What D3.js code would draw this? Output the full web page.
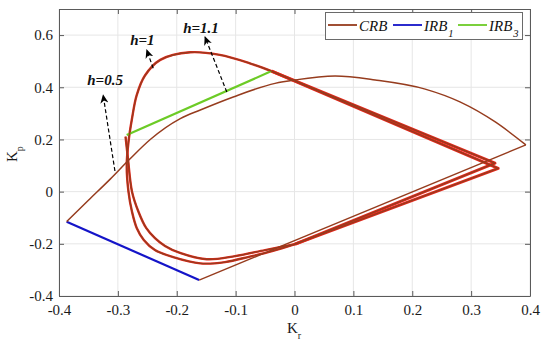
<!DOCTYPE html>
<html>
<head>
<meta charset="utf-8">
<script src="https://cdn.jsdelivr.net/npm/d3@7"></script>
<style>
  body { margin: 0; background: #fff; }
  svg text { font-family: "Liberation Serif", "Times New Roman", serif; }
</style>
</head>
<body>
<script>
//Width and height
var w = 550;
var h = 346;

// axis ticks
var xTicks = [-0.4, -0.3, -0.2, -0.1, 0, 0.1, 0.2, 0.3, 0.4];
var xTickLabels = ["-0.4", "-0.3", "-0.2", "-0.1", "0", "0.1", "0.2", "0.3", "0.4"];
var yTicks = [-0.4, -0.2, 0, 0.2, 0.4, 0.6];
var yTickLabels = ["-0.4", "-0.2", "0", "0.2", "0.4", "0.6"];

// CRB, h = 0.5 (curved part, then straight back edge)
var crb05Curve = [
  [-0.387, -0.115], [-0.35, -0.033], [-0.313, 0.048], [-0.281, 0.122],
  [-0.245, 0.200], [-0.194, 0.280], [-0.160, 0.313], [-0.104, 0.363],
  [-0.033, 0.415], [0.001, 0.428], [0.069, 0.443], [0.137, 0.428],
  [0.222, 0.393], [0.281, 0.344], [0.341, 0.267], [0.393, 0.179]
];
var crb05Line = [[0.393, 0.179], [-0.162, -0.339]];

// CRB, h = 1
var crb1Curve = [
  [0.001, -0.201], [-0.038, -0.228], [-0.076, -0.249], [-0.118, -0.270],
  [-0.160, -0.275], [-0.206, -0.251], [-0.237, -0.224], [-0.256, -0.185],
  [-0.268, -0.139], [-0.276, -0.077], [-0.282, 0.0], [-0.285, 0.10],
  [-0.282, 0.19], [-0.276, 0.28], [-0.268, 0.37], [-0.254, 0.445],
  [-0.228, 0.505], [-0.177, 0.534], [-0.127, 0.524], [-0.076, 0.492],
  [-0.039, 0.462]
];
var crb1Line = [[-0.039, 0.462], [0.346, 0.089], [0.001, -0.201]];

// CRB, h = 1.1
var crb11Curve = [
  [0.001, -0.201], [-0.05, -0.224], [-0.101, -0.247], [-0.149, -0.259],
  [-0.1945, -0.235], [-0.22, -0.208], [-0.237, -0.178], [-0.252, -0.139],
  [-0.265, -0.077], [-0.276, 0.0], [-0.283, 0.129], [-0.287, 0.211]
];
var crb11Line = [[0.001, -0.201], [0.3405, 0.109], [-0.039, 0.462]];

// IRB lines
var irb1 = [[-0.387, -0.115], [-0.162, -0.339]];
var irb3 = [[-0.285, 0.217], [-0.039, 0.462]];

// annotations: label, label position, arrow tail, arrow head
var hLabels = ["h=0.5", "h=1", "h=1.1"];
var hLabelPos = [[-0.352, 0.409], [-0.279, 0.562], [-0.189, 0.608]];
var hArrowTail = [[-0.305, 0.079], [-0.240, 0.473], [-0.115, 0.382]];
var hArrowHead = [[-0.325, 0.370], [-0.251, 0.543], [-0.152, 0.593]];

var legendNames = ["CRB", "IRB", "IRB"];
var legendSubs = ["", "1", "3"];

var brown = "#963c1e";
var red = "#e8261c";
var blue = "#1414c8";
var green = "#6ccb26";
var axisColor = "#5a5a5a";
var serif = "'Liberation Serif', 'Times New Roman', serif";

var xScale = d3.scaleLinear().domain([-0.4, 0.4]).range([59, 530]);
var yScale = d3.scaleLinear().domain([-0.4, 0.7]).range([296, 9]);

//Create SVG element
var svg = d3.select("body").append("svg").attr("width", w).attr("height", h);

var defs = svg.append("defs");
defs
  .append("marker")
  .attr("id", "head")
  .attr("viewBox", "0 -5 10 10")
  .attr("refX", 9)
  .attr("refY", 0)
  .attr("markerWidth", 9)
  .attr("markerHeight", 9)
  .attr("markerUnits", "userSpaceOnUse")
  .attr("orient", "auto")
  .append("path")
  .attr("d", "M0,-4.5L10,0L0,4.5L3,0Z")
  .attr("fill", "#000");

//Grid
svg
  .append("g")
  .selectAll("line")
  .data(xTicks)
  .enter()
  .append("line")
  .attr("x1", function (d) { return xScale(d); })
  .attr("x2", function (d) { return xScale(d); })
  .attr("y1", yScale(-0.4))
  .attr("y2", yScale(0.7))
  .attr("stroke", "#e6e6e6");
svg
  .append("g")
  .selectAll("line")
  .data(yTicks)
  .enter()
  .append("line")
  .attr("x1", xScale(-0.4))
  .attr("x2", xScale(0.4))
  .attr("y1", function (d) { return yScale(d); })
  .attr("y2", function (d) { return yScale(d); })
  .attr("stroke", "#e6e6e6");

//Axes
function styleAxis(g) {
  g.attr("font-family", serif);
  g.selectAll("path,line").attr("stroke", axisColor);
  g.selectAll("text")
    .attr("fill", "#1a1a1a")
    .attr("font-size", "15px")
    .style("font-family", serif);
}

svg
  .append("g")
  .attr("transform", "translate(0," + yScale(-0.4) + ")")
  .call(
    d3.axisBottom(xScale).tickValues(xTicks).tickSize(-5).tickSizeOuter(0).tickPadding(8)
      .tickFormat(function (d, i) { return xTickLabels[i]; })
  )
  .call(styleAxis);
svg
  .append("g")
  .attr("transform", "translate(0," + yScale(0.7) + ")")
  .call(d3.axisTop(xScale).tickValues(xTicks).tickSize(-5).tickSizeOuter(0).tickFormat(""))
  .call(styleAxis);
svg
  .append("g")
  .attr("transform", "translate(" + xScale(-0.4) + ",0)")
  .call(
    d3.axisLeft(yScale).tickValues(yTicks).tickSize(-5).tickSizeOuter(0).tickPadding(6)
      .tickFormat(function (d, i) { return yTickLabels[i]; })
  )
  .call(styleAxis);
svg
  .append("g")
  .attr("transform", "translate(" + xScale(0.4) + ",0)")
  .call(d3.axisRight(yScale).tickValues(yTicks).tickSize(-5).tickSizeOuter(0).tickFormat(""))
  .call(styleAxis);

//Axis titles
var xt = svg
  .append("text")
  .attr("x", 287)
  .attr("y", 333)
  .attr("font-size", "15px")
  .style("font-family", serif)
  .attr("fill", "#1a1a1a");
xt.append("tspan").text("K");
xt.append("tspan").attr("dy", 6).attr("font-size", "10px").text("r");

var yt = svg
  .append("text")
  .attr("transform", "translate(17,162) rotate(-90)")
  .attr("font-size", "15px")
  .style("font-family", serif)
  .attr("fill", "#1a1a1a");
yt.append("tspan").text("K");
yt.append("tspan").attr("dy", 6).attr("font-size", "10px").text("p");

//Lines
var smooth = d3
  .line()
  .x(function (d) { return xScale(d[0]); })
  .y(function (d) { return yScale(d[1]); })
  .curve(d3.curveMonotoneX);
var curve = d3
  .line()
  .x(function (d) { return xScale(d[0]); })
  .y(function (d) { return yScale(d[1]); })
  .curve(d3.curveCatmullRom.alpha(0.5));
var straight = d3
  .line()
  .x(function (d) { return xScale(d[0]); })
  .y(function (d) { return yScale(d[1]); });

var plot = svg.append("g").attr("fill", "none").attr("stroke-linejoin", "round");

// red under the h=1 and h=1.1 boundaries
[crb1Curve, crb11Curve].forEach(function (d) {
  plot.append("path").attr("d", curve(d)).attr("stroke", red).attr("stroke-width", 2.4);
});
[crb1Line, crb11Line].forEach(function (d) {
  plot.append("path").attr("d", straight(d)).attr("stroke", red).attr("stroke-width", 3);
});

plot.append("path").attr("d", straight(irb1)).attr("stroke", blue).attr("stroke-width", 2.2);
plot.append("path").attr("d", straight(irb3)).attr("stroke", green).attr("stroke-width", 2.2);

plot.append("path").attr("d", smooth(crb05Curve)).attr("stroke", brown).attr("stroke-width", 1.5);
[crb1Curve, crb11Curve].forEach(function (d) {
  plot.append("path").attr("d", curve(d)).attr("stroke", brown).attr("stroke-width", 1.4);
});
[crb05Line, crb1Line, crb11Line].forEach(function (d) {
  plot.append("path").attr("d", straight(d)).attr("stroke", brown).attr("stroke-width", 1.4);
});

//Annotations
svg
  .append("g")
  .selectAll("line")
  .data(hLabels)
  .enter()
  .append("line")
  .attr("x1", function (d, i) { return xScale(hArrowTail[i][0]); })
  .attr("y1", function (d, i) { return yScale(hArrowTail[i][1]); })
  .attr("x2", function (d, i) { return xScale(hArrowHead[i][0]); })
  .attr("y2", function (d, i) { return yScale(hArrowHead[i][1]); })
  .attr("stroke", "#000")
  .attr("stroke-width", 1.2)
  .attr("stroke-dasharray", "4,2.5")
  .attr("marker-end", "url(#head)");

svg
  .append("g")
  .selectAll("text")
  .data(hLabels)
  .enter()
  .append("text")
  .text(function (d) { return d; })
  .attr("x", function (d, i) { return xScale(hLabelPos[i][0]); })
  .attr("y", function (d, i) { return yScale(hLabelPos[i][1]); })
  .attr("font-size", "15px")
  .attr("font-weight", "bold")
  .attr("font-style", "italic")
  .style("font-family", serif)
  .attr("fill", "#111");

//Legend
var legend = svg.append("g");
legend
  .append("rect")
  .attr("x", 325.5)
  .attr("y", 12.5)
  .attr("width", 197)
  .attr("height", 27)
  .attr("fill", "#fff")
  .attr("stroke", "#6a6a6a");

var legendColors = [brown, blue, green];
var legendX = [328, 393, 458];
legendNames.forEach(function (name, i) {
  legend
    .append("line")
    .attr("x1", legendX[i])
    .attr("x2", legendX[i] + 29)
    .attr("y1", 25)
    .attr("y2", 25)
    .attr("stroke", legendColors[i])
    .attr("stroke-width", 1.8);
  var t = legend
    .append("text")
    .attr("x", legendX[i] + 31)
    .attr("y", 31)
    .attr("font-size", "15px")
    .attr("font-style", "italic")
    .style("font-family", serif)
    .attr("fill", "#111");
  t.append("tspan").text(name);
  if (legendSubs[i]) {
    t.append("tspan").attr("dx", 1).attr("dy", 6).attr("font-size", "10.5px").text(legendSubs[i]);
  }
});
</script>
</body>
</html>
